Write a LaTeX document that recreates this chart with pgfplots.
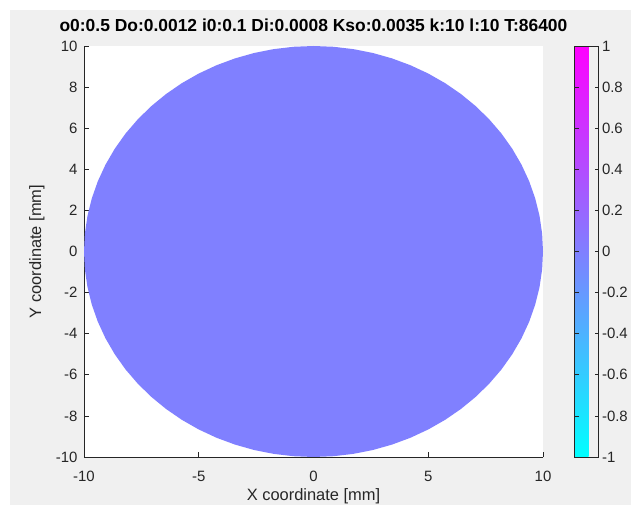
\documentclass[border=0pt]{standalone}
\usepackage{pgfplots}
\pgfplotsset{compat=1.18}
\usepackage{fontspec}
\setmainfont{Liberation Sans}
\definecolor{figgray}{RGB}{240,240,240}
\definecolor{axgray}{RGB}{38,38,38}
\definecolor{circ}{RGB}{128,128,255}
\begin{document}
\begin{tikzpicture}
\fill[white] (0,0) rectangle (631bp,505bp);
\fill[figgray] (10bp,0) rectangle (631bp,495bp);
\begin{axis}[
  at={(84bp,48bp)}, anchor=south west,
  scale only axis, width=459bp, height=411bp,
  xmin=-10, xmax=10, ymin=-10, ymax=10,
  axis background/.style={fill=white},
  axis x line*=bottom, axis y line*=left,
  axis line style={axgray, line width=0.6bp},
  tick align=inside, major tick length=5bp,
  tick style={axgray, line width=0.6bp},
  xtick={-10,-5,0,5,10}, ytick={-10,-8,...,10},
  ticklabel style={font=\fontsize{15}{17}\selectfont, text=axgray},
  /pgf/number format/assume math mode=true,
  xticklabel style={anchor=base, yshift=-24bp},
  yticklabel style={xshift=-3bp},
  xlabel={X coordinate [mm]}, ylabel={Y coordinate [mm]},
  label style={font=\fontsize{16.5}{18}\selectfont, text=axgray},
  xlabel style={at={(axis description cs:0.5,0)}, anchor=base, yshift=-43bp},
  ylabel style={at={(axis description cs:0,0.5)}, anchor=center, yshift=47bp},
  title={\textbf{o0:0.5 Do:0.0012 i0:0.1 Di:0.0008 Kso:0.0035 k:10 l:10 T:86400}},
  title style={font=\fontsize{17.5}{19}\selectfont, at={(axis description cs:0.5,1)}, anchor=base, yshift=9bp},
  colormap={cool}{rgb255(0cm)=(0,255,255) rgb255(1cm)=(255,0,255)},
  colorbar,
  point meta min=-1, point meta max=1,
  colorbar style={
    at={(parent axis.south east)}, anchor=south west, xshift=23bp,
    scale only axis, width=24bp, height=411bp,
    ytick={-1,-0.8,...,1},
    yticklabel pos=right,
    tick align=inside, major tick length=4bp,
    tick style={axgray, line width=0.6bp},
    axis line style={axgray, line width=0.8bp},
    ticklabel style={font=\fontsize{15}{17}\selectfont, text=axgray},
    /pgf/number format/assume math mode=true,
    yticklabel style={/pgf/number format/fixed, xshift=0bp},
  },
]
\addplot[draw=none, fill=circ] coordinates {
(10,0) (9.962,0.872) (9.848,1.736) (9.659,2.588) (9.397,3.420) (9.063,4.226) (8.660,5.000) (8.192,5.736) (7.660,6.428) (7.071,7.071) (6.428,7.660) (5.736,8.192) (5.000,8.660) (4.226,9.063) (3.420,9.397) (2.588,9.659) (1.736,9.848) (0.872,9.962) (0,10)
(-0.872,9.962) (-1.736,9.848) (-2.588,9.659) (-3.420,9.397) (-4.226,9.063) (-5.000,8.660) (-5.736,8.192) (-6.428,7.660) (-7.071,7.071) (-7.660,6.428) (-8.192,5.736) (-8.660,5.000) (-9.063,4.226) (-9.397,3.420) (-9.659,2.588) (-9.848,1.736) (-9.962,0.872) (-10,0)
(-9.962,-0.872) (-9.848,-1.736) (-9.659,-2.588) (-9.397,-3.420) (-9.063,-4.226) (-8.660,-5.000) (-8.192,-5.736) (-7.660,-6.428) (-7.071,-7.071) (-6.428,-7.660) (-5.736,-8.192) (-5.000,-8.660) (-4.226,-9.063) (-3.420,-9.397) (-2.588,-9.659) (-1.736,-9.848) (-0.872,-9.962) (0,-10)
(0.872,-9.962) (1.736,-9.848) (2.588,-9.659) (3.420,-9.397) (4.226,-9.063) (5.000,-8.660) (5.736,-8.192) (6.428,-7.660) (7.071,-7.071) (7.660,-6.428) (8.192,-5.736) (8.660,-5.000) (9.063,-4.226) (9.397,-3.420) (9.659,-2.588) (9.848,-1.736) (9.962,-0.872)
} -- cycle;
\end{axis}
\pgfresetboundingbox
\useasboundingbox (0,0) rectangle (631bp,505bp);
\end{tikzpicture}
\end{document}
